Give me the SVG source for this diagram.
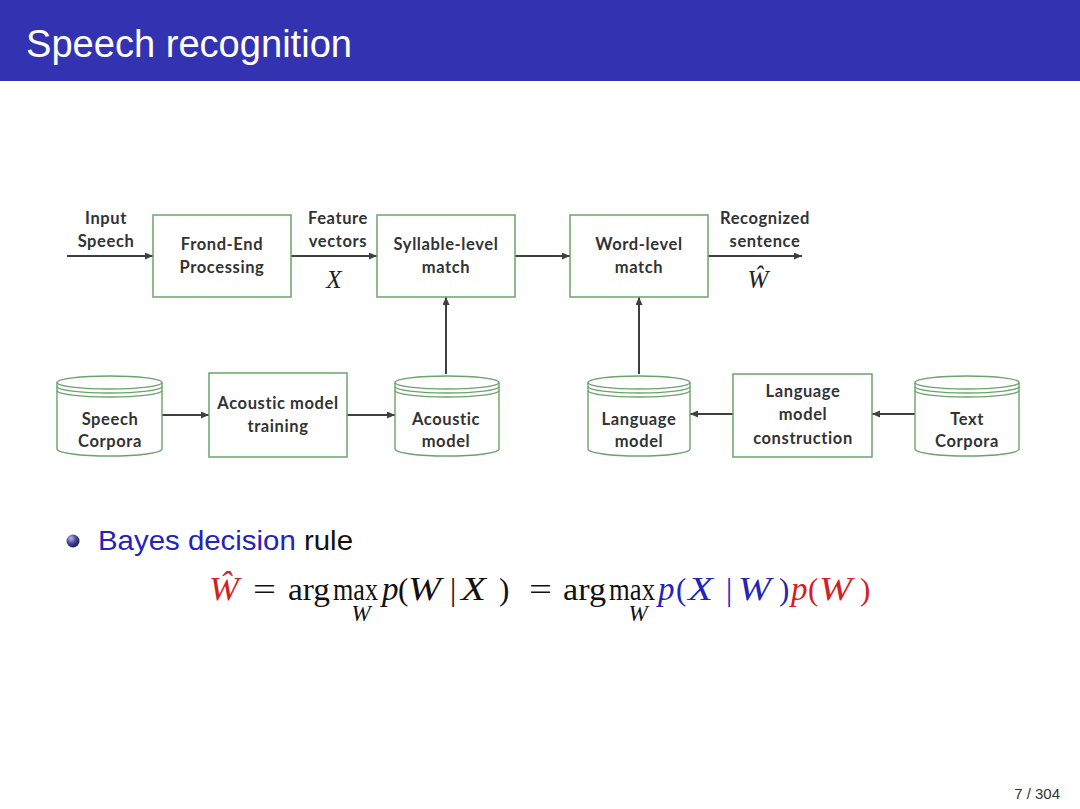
<svg xmlns="http://www.w3.org/2000/svg" width="1080" height="809" viewBox="0 0 1080 809">
<defs>
<style>
.box{fill:#fff;stroke:#6ba36b;stroke-width:1.5}
.cyl{fill:#fff;stroke:#6ba36b;stroke-width:1.4}
.cyl2{fill:none;stroke:#6ba36b;stroke-width:1.4}
.lbl{font-family:Lato,"Liberation Sans",sans-serif;font-weight:bold;font-size:16.5px;letter-spacing:0.6px;fill:#333;text-anchor:middle}
.conn{stroke:#3f3f3f;stroke-width:2;fill:none;marker-end:url(#arr)}
.m{font-family:"Liberation Serif",serif;font-size:31px}
.mi{font-family:"Liberation Serif",serif;font-style:italic;font-size:33px}
.ms{font-family:"Liberation Serif",serif;font-style:italic;font-size:23px;fill:#111;text-anchor:middle}
.k{fill:#111}
.b{fill:#2424b8}
.r{fill:#d42020}
</style>
<marker id="arr" markerWidth="9" markerHeight="8" refX="8" refY="3.5" orient="auto" markerUnits="userSpaceOnUse">
<path d="M0,0 L8,3.5 L0,7 z" fill="#3f3f3f"/>
</marker>
<radialGradient id="ball" cx="0.35" cy="0.3" r="0.75">
<stop offset="0" stop-color="#b8b8e8"/>
<stop offset="0.5" stop-color="#4a4a9a"/>
<stop offset="1" stop-color="#1a1a50"/>
</radialGradient>
</defs>
<rect x="0" y="0" width="1080" height="809" fill="#fff"/>
<g id="title">
<rect x="0" y="0" width="1080" height="81" fill="#3333b2"/>
<text x="26" y="57" font-family="Liberation Sans,sans-serif" font-size="38" fill="#fff" textLength="326" lengthAdjust="spacingAndGlyphs">Speech recognition</text>
</g>
<g id="connectors">
<path class="conn" d="M67,256 H153"/>
<path class="conn" d="M291,256 H377"/>
<path class="conn" d="M515,256 H570"/>
<path class="conn" d="M708,256 H802"/>
<path class="conn" d="M446,374 V297"/>
<path class="conn" d="M639,374 V297"/>
<path class="conn" d="M162,415 H209"/>
<path class="conn" d="M347,415 H395"/>
<path class="conn" d="M733,414 H690"/>
<path class="conn" d="M915,414 H872"/>
</g>
<g id="input-label">
<text class="lbl" x="106" y="224">Input</text>
<text class="lbl" x="106" y="247">Speech</text>
</g>
<g id="frontend">
<rect class="box" x="153" y="215" width="138" height="82"/>
<text class="lbl" x="222" y="250">Frond-End</text>
<text class="lbl" x="222" y="273">Processing</text>
</g>
<g id="feature-label">
<text class="lbl" x="338" y="224">Feature</text>
<text class="lbl" x="338" y="247">vectors</text>
<text x="334" y="288" font-family="Liberation Serif,serif" font-style="italic" font-size="25" fill="#222" text-anchor="middle">X</text>
</g>
<g id="syllable">
<rect class="box" x="377" y="215" width="138" height="82"/>
<text class="lbl" x="446" y="250">Syllable-level</text>
<text class="lbl" x="446" y="273">match</text>
</g>
<g id="word">
<rect class="box" x="570" y="215" width="138" height="82"/>
<text class="lbl" x="639" y="250">Word-level</text>
<text class="lbl" x="639" y="273">match</text>
</g>
<g id="output-label">
<text class="lbl" x="765" y="224">Recognized</text>
<text class="lbl" x="765" y="247">sentence</text>
<text x="758" y="288" font-family="Liberation Serif,serif" font-style="italic" font-size="25" fill="#222" text-anchor="middle">Ŵ</text>
</g>
<g id="speech-corpora">
<path class="cyl" d="M57,382.5 A52.5,6.5 0 0 1 162,382.5 L162,449 A52.5,7 0 0 1 57,449 Z"/>
<path class="cyl2" d="M57,382.5 A52.5,6.5 0 0 0 162,382.5 M57,386.5 A52.5,6.5 0 0 0 162,386.5 M57,390.5 A52.5,6.5 0 0 0 162,390.5"/>
<text class="lbl" x="110" y="425">Speech</text>
<text class="lbl" x="110" y="447">Corpora</text>
</g>
<g id="am-training">
<rect class="box" x="209" y="373" width="138" height="84"/>
<text class="lbl" x="278" y="409">Acoustic model</text>
<text class="lbl" x="278" y="432">training</text>
</g>
<g id="acoustic-model">
<path class="cyl" d="M395,382.5 A52,6.5 0 0 1 499,382.5 L499,449 A52,7 0 0 1 395,449 Z"/>
<path class="cyl2" d="M395,382.5 A52,6.5 0 0 0 499,382.5 M395,386.5 A52,6.5 0 0 0 499,386.5 M395,390.5 A52,6.5 0 0 0 499,390.5"/>
<text class="lbl" x="446" y="425">Acoustic</text>
<text class="lbl" x="446" y="447">model</text>
</g>
<g id="language-model">
<path class="cyl" d="M588,382.5 A51,6.5 0 0 1 690,382.5 L690,449 A51,7 0 0 1 588,449 Z"/>
<path class="cyl2" d="M588,382.5 A51,6.5 0 0 0 690,382.5 M588,386.5 A51,6.5 0 0 0 690,386.5 M588,390.5 A51,6.5 0 0 0 690,390.5"/>
<text class="lbl" x="639" y="425">Language</text>
<text class="lbl" x="639" y="447">model</text>
</g>
<g id="lm-construction">
<rect class="box" x="733" y="374" width="139" height="83"/>
<text class="lbl" x="803" y="397">Language</text>
<text class="lbl" x="803" y="420">model</text>
<text class="lbl" x="803" y="444">construction</text>
</g>
<g id="text-corpora">
<path class="cyl" d="M915,382.5 A52,6.5 0 0 1 1019,382.5 L1019,449 A52,7 0 0 1 915,449 Z"/>
<path class="cyl2" d="M915,382.5 A52,6.5 0 0 0 1019,382.5 M915,386.5 A52,6.5 0 0 0 1019,386.5 M915,390.5 A52,6.5 0 0 0 1019,390.5"/>
<text class="lbl" x="967" y="425">Text</text>
<text class="lbl" x="967" y="447">Corpora</text>
</g>
<g id="bullet">
<circle cx="73" cy="541" r="6.5" fill="url(#ball)"/>
<text x="98" y="550" font-family="Liberation Sans,sans-serif" font-size="28" textLength="255" lengthAdjust="spacingAndGlyphs"><tspan fill="#2424b8">Bayes decision</tspan><tspan fill="#111"> rule</tspan></text>
</g>
<g id="equation">
<text class="mi r" x="209" y="600" textLength="30" lengthAdjust="spacingAndGlyphs">Ŵ</text>
<text class="m k" x="253" y="600" textLength="23" lengthAdjust="spacingAndGlyphs">=</text>
<text class="m k" x="288" y="600" textLength="42" lengthAdjust="spacingAndGlyphs">arg</text>
<text class="m k" x="333" y="600" textLength="45" lengthAdjust="spacingAndGlyphs">max</text>
<text class="ms" x="361" y="621">W</text>
<text class="mi k" x="382" y="600">p</text>
<text class="m k" x="398" y="600">(</text>
<text class="mi k" x="408" y="600" textLength="33" lengthAdjust="spacingAndGlyphs">W</text>
<text class="m k" x="450" y="600">|</text>
<text class="mi k" x="461" y="600" textLength="25" lengthAdjust="spacingAndGlyphs">X</text>
<text class="m k" x="499" y="600">)</text>
<text class="m k" x="529" y="600" textLength="23" lengthAdjust="spacingAndGlyphs">=</text>
<text class="m k" x="563" y="600" textLength="43" lengthAdjust="spacingAndGlyphs">arg</text>
<text class="m k" x="609" y="600" textLength="46" lengthAdjust="spacingAndGlyphs">max</text>
<text class="ms" x="638" y="621">W</text>
<text class="mi b" x="658" y="600">p</text>
<text class="m b" x="676" y="600">(</text>
<text class="mi b" x="688" y="600" textLength="25" lengthAdjust="spacingAndGlyphs">X</text>
<text class="m b" x="726" y="600">|</text>
<text class="mi b" x="738" y="600" textLength="33" lengthAdjust="spacingAndGlyphs">W</text>
<text class="m b" x="779" y="600">)</text>
<text class="mi r" x="791" y="600">p</text>
<text class="m r" x="808" y="600">(</text>
<text class="mi r" x="819" y="600" textLength="33" lengthAdjust="spacingAndGlyphs">W</text>
<text class="m r" x="860" y="600">)</text>
</g>
<g id="page-number">
<text x="1060" y="799" font-family="Liberation Sans,sans-serif" font-size="15" fill="#333" text-anchor="end">7 / 304</text>
</g>
</svg>
